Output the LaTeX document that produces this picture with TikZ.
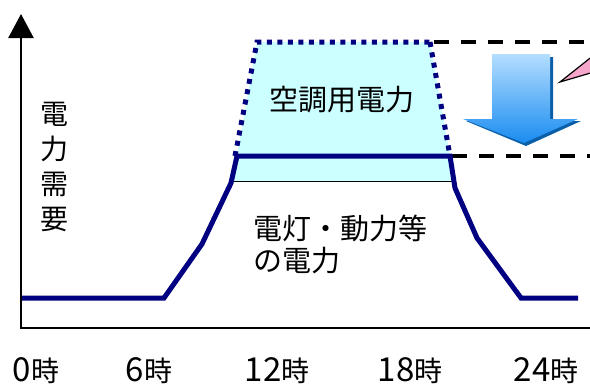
\documentclass[tikz,border=0pt]{standalone}
\usepackage{fontspec}
\setmainfont{Noto Sans CJK JP}
\usetikzlibrary{arrows.meta}
\definecolor{demand}{HTML}{000080}
\definecolor{acfill}{HTML}{CCFFFF}
\definecolor{arrowtop}{HTML}{B4DEFF}
\definecolor{arrowbot}{HTML}{1A8CF0}
\definecolor{arrowshadow}{HTML}{0A5FA8}
\definecolor{callout}{HTML}{F7A6CB}
\newcommand{\hr}[1]{{\fontsize{33}{35}\selectfont #1}時}
\tikzset{
	curve/.style={draw=demand, line width=5pt, line join=miter},
	acdots/.style={draw=demand, line width=5pt, dash pattern=on 5pt off 5.5pt},
	guide/.style={draw=black, line width=3.5pt, dash pattern=on 15pt off 12pt},
	lbl/.style={inner sep=0pt, font=\fontsize{28}{35}\selectfont}
}

\begin{document}
\begin{tikzpicture}[x=1pt, y=-1pt]
				\useasboundingbox (0,0) rectangle (590,384);
				
				\fill[acfill] (257,42) -- (430,42) -- (450,156) -- (455,182) -- (232,182) -- (237,156) -- cycle;
				\draw[line width=1pt] (232,181) -- (454,181);
				
				\draw[acdots] (235,156) -- (257,42) -- (430,42);
				\draw[acdots] (430,42) -- (450,156);
				\draw[guide] (434,42) -- (592,42);
				\draw[guide] (452,156) -- (592,156);
				
				\draw[curve] (21,298) -- (164,298) -- (202,244) -- (231,183) -- (237,156) -- (450,156) -- (455,188) -- (477,238) -- (521,298) -- (578,298);
				
				\draw[line width=2.5pt, -{Triangle[length=24pt, width=25pt]}] (21,328) -- (21,14);
				\draw[line width=2.5pt] (20,328) -- (592,328);
				
				\fill[arrowshadow] (495,57) -- (553,57) -- (553,121) -- (581,121) -- (526,146) -- (466,121) -- (495,121) -- cycle;
				\shade[top color=arrowtop, bottom color=arrowbot] (492,54) -- (550,54) -- (550,119) -- (578,119) -- (524,143) -- (463,119) -- (492,119) -- cycle;
				
				\draw[fill=callout, line width=1.2pt] (560,82) -- (594,55) -- (594,72) -- cycle;
				
				\node[lbl, align=center] (ylabel) at (55,167) {電\\力\\需\\要};
				\node[lbl, font=\fontsize{29}{35}\selectfont] (aclabel) at (342,100) {空調用電力};
				\node[lbl, align=left, anchor=west, font=\fontsize{29}{32}\selectfont] (baselabel) at (253,244) {電灯・動力等\\の電力};
				
				\node[lbl, anchor=base] (h0) at (36,381) {\hr{0}};
				\node[lbl, anchor=base] (h6) at (149,381) {\hr{6}};
				\node[lbl, anchor=base] (h12) at (277,381) {\hr{12}};
				\node[lbl, anchor=base] (h18) at (410,381) {\hr{18}};
				\node[lbl, anchor=base] (h24) at (546,381) {\hr{24}};
			\end{tikzpicture}
\end{document}
